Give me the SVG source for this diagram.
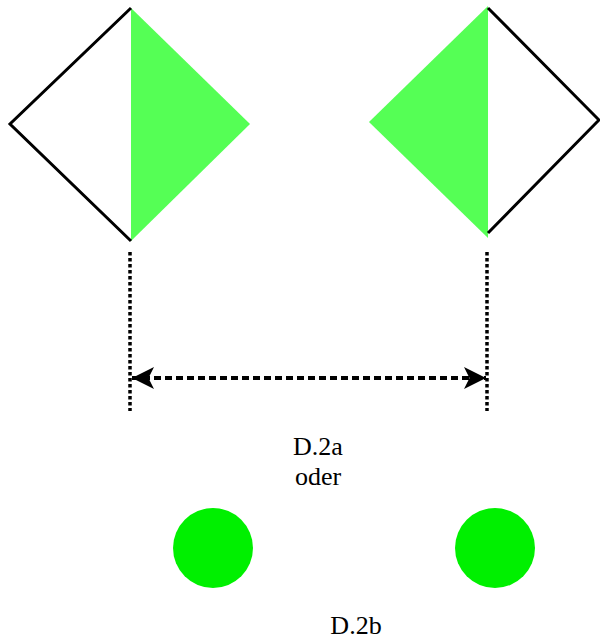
<svg xmlns="http://www.w3.org/2000/svg" width="600" height="641" viewBox="0 0 600 641">
<style>
.tri{fill:#55ff55;stroke:none}
.edge{fill:none;stroke:#000;stroke-width:3;stroke-linejoin:miter}
.dot{stroke:#000;stroke-width:3.5;stroke-dasharray:3.5 2.5;fill:none}
.dash{stroke:#000;stroke-width:4;stroke-dasharray:7 4;fill:none}
.circ{fill:#00f000}
.lbl{font-size:26px;fill:#000;text-anchor:middle}
</style>
<defs>
<marker id="ah" viewBox="0 0 10 10" refX="10" refY="5" markerWidth="6.5" markerHeight="5.5" markerUnits="strokeWidth" orient="auto-start-reverse">
<path d="M0,0 L10,5 L0,10 L2.5,5 z" fill="#000"/>
</marker>
</defs>
<g id="diamond-left">
<polygon class="tri" points="131,8 250,124 131,241"/>
<polyline class="edge" points="131,8 10,124 131,241"/>
</g>
<g id="diamond-right">
<polygon class="tri" points="488,6 369,122 488,238"/>
<polyline class="edge" points="488,8 599,120 488,233"/>
</g>
<g id="connectors">
<line class="dot" x1="130" y1="252" x2="130" y2="411"/>
<line class="dot" x1="487" y1="252" x2="487" y2="411"/>
<line class="dash" x1="132" y1="378" x2="486" y2="378" marker-start="url(#ah)" marker-end="url(#ah)"/>
</g>
<g id="circle-left"><circle class="circ" cx="213" cy="548" r="40"/></g>
<g id="circle-right"><circle class="circ" cx="495" cy="548" r="40"/></g>
<g id="labels" font-family="'Liberation Serif', 'Times New Roman', serif">
<text class="lbl" x="318" y="455">D.2a</text>
<text class="lbl" x="318" y="485">oder</text>
<text class="lbl" x="356" y="634">D.2b</text>
</g>
</svg>
